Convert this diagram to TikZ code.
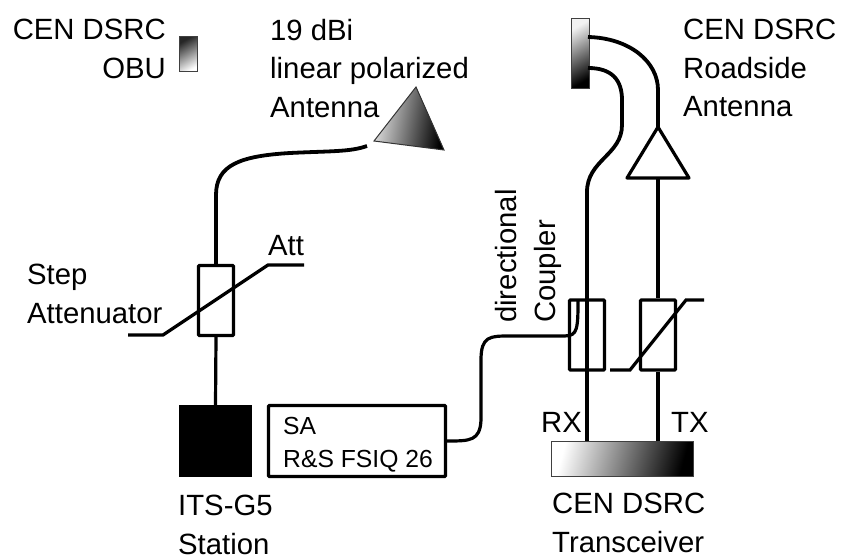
\documentclass[tikz,border=0pt]{standalone}
\usepackage{fontspec}
\setmainfont{Liberation Sans}
\usetikzlibrary{arrows,positioning}

\tikzset{
    label text/.style={inner sep=0pt,font=\fontsize{29.3}{38.4}\selectfont},
    small text/.style={inner sep=0pt,font=\fontsize{24.7}{33}\selectfont},
    block/.style={draw,line width=3.2pt,rectangle,inner sep=0pt,rounded corners=0.8pt},
    attbox/.style={block,minimum width=35pt,minimum height=70pt},
    shaded block/.style={draw=black!75,line width=1pt,rectangle,inner sep=0pt,shading=axis},
    cable/.style={line width=3.8pt},
    wire/.style={line width=3.2pt},
}

\begin{document}
\begin{tikzpicture}[x=1pt,y=-1pt]
    \useasboundingbox (0,0) rectangle (841,559);

    % blocks
    \node[shaded block,minimum width=18pt,minimum height=35pt,left color=black!85,right color=white,shading angle=30] (obu) at (188.5,54.5) {};
    \node[shaded block,minimum width=18pt,minimum height=70pt,left color=black!5,right color=black,shading angle=30] (road) at (580,54) {};
    \node[shaded block,minimum width=142pt,minimum height=35pt,left color=white,right color=black,shading angle=75] (trx) at (622.5,458.5) {};
    \node[rectangle,fill=black,minimum width=73pt,minimum height=72pt,inner sep=0pt] (its) at (215.5,441) {};
    \node[block,minimum width=177pt,minimum height=71pt] (sa) at (357,441) {};
    \node[attbox] (att) at (216,300.5) {};
    \node[attbox] (coupler) at (587,335) {};
    \node[attbox] (txatt) at (658,335) {};

    % antenna and amplifier
    \coordinate (hornTop) at (416,87);
    \coordinate (hornLeft) at (374,141);
    \coordinate (hornRight) at (444,150);
    \coordinate (hornFeed) at (367,146);
    \draw[draw=black!80,line width=1pt,left color=black!10,right color=black,shading angle=80] (hornTop) -- (hornLeft) -- (hornRight) -- cycle;
    \coordinate (ampTop) at (658,127);
    \coordinate (ampLeft) at (627,178);
    \coordinate (ampRight) at (689,178);
    \coordinate (ampBase) at (658,178);
    \draw[wire,line join=round] (ampTop) -- (ampLeft) -- (ampRight) -- cycle;

    % cables
    \coordinate (roadTx) at (588,37);
    \coordinate (roadRx) at (588,68);
    \draw[cable] (roadTx) .. controls (630,38) and (658,62) .. (658,90) -- (ampTop);
    \draw[cable] (roadRx) .. controls (612,68) and (622,80) .. (622,100) -- (622,125)
        .. controls (622,155) and (587,160) .. (587,192) -- (coupler.north);
    \draw[cable] (hornFeed) .. controls (350,152) and (330,151) .. (290,153)
        .. controls (240,156) and (216,165) .. (216,195) -- (att.north);
    \draw[wire] (att.south) -- (its.north);
    \draw[wire] (coupler.north) -- (coupler.south) -- (coupler.south |- trx.north);
    \draw[wire] (ampBase) -- (txatt.north);
    \draw[wire] (txatt.south) -- (txatt.south |- trx.north);
    \draw[wire] (sa.east) .. controls (470,441) and (480,441) .. (481,420) -- (481,360)
        .. controls (481,336) and (490,336) .. (510,336) -- (560,336)
        .. controls (575,336) and (578,336) .. (578,305) -- (578,300);

    % regulator lines
    \coordinate (attLow) at (128,335);
    \coordinate (attLowBend) at (163,335);
    \coordinate (attHighBend) at (268,265);
    \coordinate (attHigh) at (304,265);
    \draw[wire] (attLow) -- (attLowBend) -- (attHighBend) -- (attHigh);
    \coordinate (txLow) at (610,370);
    \coordinate (txLowBend) at (630,370);
    \coordinate (txHighBend) at (686,300);
    \coordinate (txHigh) at (704,300);
    \draw[wire] (txLow) -- (txLowBend) -- (txHighBend) -- (txHigh);

    % texts
    \node[label text,align=right,anchor=north east] (obulabel) at (166,19) {CEN DSRC\\OBU};
    \node[label text,align=left,anchor=north west] (hornlabel) at (270,19) {19 dBi\\linear polarized\\Antenna};
    \node[label text,align=left,anchor=north west] (roadlabel) at (683,19) {CEN DSRC\\Roadside\\Antenna};
    \node[label text,align=left,anchor=north west] (steplabel) at (27,264) {Step\\Attenuator};
    \node[label text,anchor=base west] (attlabel) at (268,255) {Att};
    \node[label text,anchor=base west] (rxlabel) at (541,432) {RX};
    \node[label text,anchor=base west] (txlabel) at (671,432) {TX};
    \node[label text,align=left,anchor=north west] (itslabel) at (178,495) {ITS-G5\\Station};
    \node[label text,align=left,anchor=north west] (trxlabel) at (552,493) {CEN DSRC\\Transceiver};
    \node[small text,align=left,anchor=north west] (salabel) at (283,417) {SA\\R\&S FSIQ 26};
    \node[label text,rotate=90,anchor=base west] (dirlabel) at (516,323) {directional};
    \node[label text,rotate=90,anchor=base west] (couplabel) at (555,323) {Coupler};
\end{tikzpicture}
\end{document}
